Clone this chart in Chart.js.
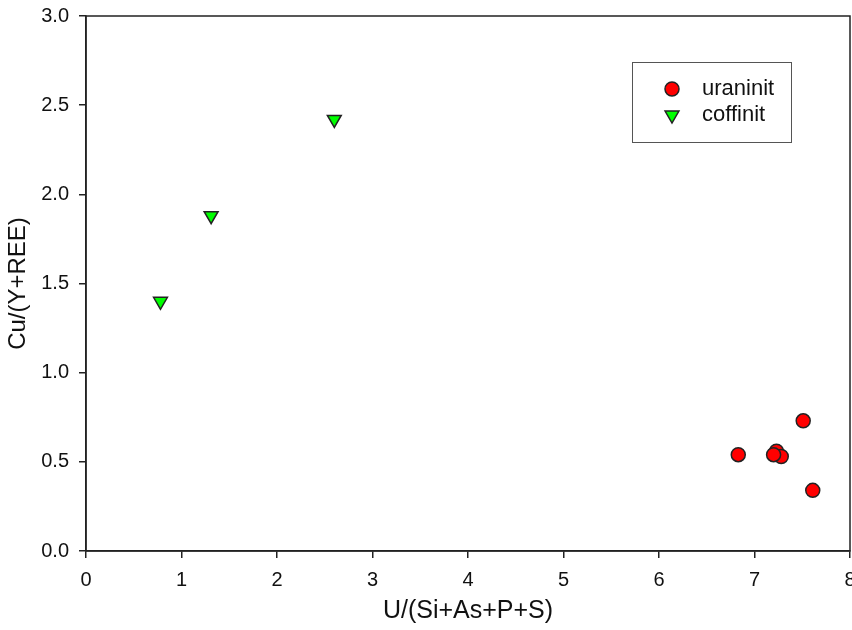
<!DOCTYPE html>
<html>
<head>
<meta charset="utf-8">
<script src="https://cdn.jsdelivr.net/npm/chart.js@4/dist/chart.umd.min.js"></script>
<style>
  html, body { margin: 0; padding: 0; background: #fff; overflow: hidden; }
  canvas { display: block; }
</style>
</head>
<body>
<canvas id="scatter" width="852" height="630"></canvas>
<script>
// values
var seriesNames = ["uraninit", "coffinit"];
var uraninitX = [6.83, 7.23, 7.28, 7.20, 7.51, 7.61];
var uraninitY = [0.54, 0.56, 0.53, 0.54, 0.73, 0.34];
var coffinitX = [0.78, 1.31, 2.60];
var coffinitY = [1.40, 1.88, 2.42];
var xTitle = "U/(Si+As+P+S)";
var yTitle = "Cu/(Y+REE)";

function pairs(xs, ys) {
	var out = [];
	for (var i = 0; i < xs.length; i++) {
		out.push({ x: xs[i], y: ys[i] });
	}
	return out;
}

var font = "'Liberation Sans', Arial, sans-serif";

// frame round the plot + boxed legend in the upper right
var framePlugin = {
	id: "frame",
	afterDraw: function(chart) {
		var ctx = chart.ctx;
		var a = chart.chartArea;
		ctx.save();
		ctx.strokeStyle = "#222";
		ctx.lineWidth = 1.5;
		ctx.strokeRect(a.left, a.top, a.right - a.left, a.bottom - a.top);

		// legend box
		var bx = 632, by = 62;
		ctx.lineWidth = 1;
		ctx.strokeStyle = "#555";
		ctx.strokeRect(bx + 0.5, by + 0.5, 159, 80);

		var rows = [by + 27, by + 53];
		chart.data.datasets.forEach(function(ds, i) {
			var cx = bx + 40, cy = rows[i];
			ctx.fillStyle = ds.backgroundColor;
			ctx.strokeStyle = ds.borderColor;
			ctx.lineWidth = ds.borderWidth;
			ctx.beginPath();
			if (ds.pointStyle === "circle") {
				ctx.arc(cx, cy, ds.pointRadius, 0, Math.PI * 2);
			} else {
				var r = ds.pointRadius;
				ctx.moveTo(cx - r * 0.866, cy - r / 2);
				ctx.lineTo(cx + r * 0.866, cy - r / 2);
				ctx.lineTo(cx, cy + r);
				ctx.closePath();
			}
			ctx.fill();
			ctx.stroke();
			ctx.fillStyle = "#111";
			ctx.font = "22px " + font;
			ctx.textBaseline = "middle";
			ctx.textAlign = "left";
			ctx.fillText(ds.label, bx + 70, cy);
		});
		ctx.restore();
	}
};

var ctx = document.getElementById("scatter");

var chart = new Chart(ctx, {
	type: "scatter",
	data: {
		datasets: [
			{
				label: seriesNames[0],
				data: pairs(uraninitX, uraninitY),
				pointStyle: "circle",
				pointRadius: 7,
				pointHoverRadius: 7,
				backgroundColor: "#ff0000",
				borderColor: "#222",
				borderWidth: 1.5
			},
			{
				label: seriesNames[1],
				data: pairs(coffinitX, coffinitY),
				pointStyle: "triangle",
				rotation: 180,
				pointRadius: 8,
				pointHoverRadius: 8,
				backgroundColor: "#00ff00",
				borderColor: "#222",
				borderWidth: 1.5
			}
		]
	},
	options: {
		responsive: false,
		animation: false,
		layout: {
			autoPadding: false,
			padding: { top: 16, right: 2, left: 0, bottom: 0 }
		},
		plugins: {
			legend: { display: false },
			tooltip: { enabled: false }
		},
		scales: {
			x: {
				type: "linear",
				min: 0,
				max: 8,
				ticks: {
					stepSize: 1,
					color: "#111",
					padding: 10,
					font: { family: font, size: 20 }
				},
				grid: {
					drawOnChartArea: false,
					drawTicks: true,
					tickLength: 7,
					tickColor: "#222",
					lineWidth: 1.5
				},
				border: { color: "#222", width: 1.5 },
				title: {
					display: true,
					text: xTitle,
					color: "#111",
					font: { family: font, size: 25 }
				},
				afterFit: function(scale) {
					scale.height = 79;
					scale.paddingLeft = 0;
					scale.paddingRight = 0;
				}
			},
			y: {
				type: "linear",
				min: 0,
				max: 3,
				ticks: {
					stepSize: 0.5,
					color: "#111",
					padding: 10,
					font: { family: font, size: 20 },
					callback: function(v) { return v.toFixed(1); }
				},
				grid: {
					drawOnChartArea: false,
					drawTicks: true,
					tickLength: 7,
					tickColor: "#222",
					lineWidth: 1.5
				},
				border: { color: "#222", width: 1.5 },
				title: {
					display: true,
					text: yTitle,
					color: "#111",
					font: { family: font, size: 24 }
				},
				afterFit: function(scale) {
					scale.width = 86;
					scale.paddingTop = 0;
					scale.paddingBottom = 0;
				}
			}
		}
	},
	plugins: [framePlugin]
});
</script>
</body>
</html>
